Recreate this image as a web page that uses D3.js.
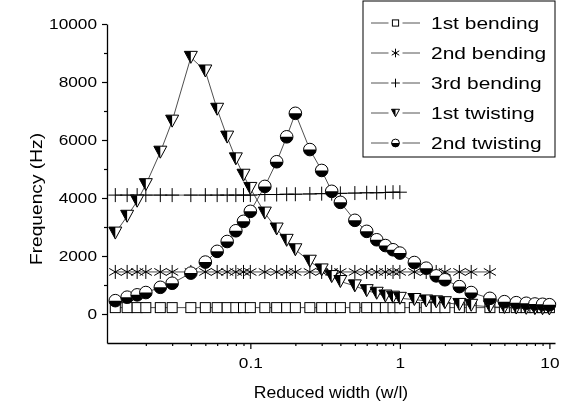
<!DOCTYPE html>
<html>
<head>
<meta charset="utf-8">
<script src="https://cdn.jsdelivr.net/npm/d3@7"></script>
<style>
    body { margin: 0; background: #fff; }
    svg { will-change: transform; }
    text { font-family: "Liberation Sans", Arial, sans-serif; fill: #000; }
</style>
</head>
<body>
<div id="chart"></div>
<script>
// reduced width (w/l), shared by all series
const widths = [0.0125, 0.015, 0.0175, 0.02, 0.025, 0.03, 0.04, 0.05, 0.06, 0.07, 0.08, 0.09, 0.1,
    0.125, 0.15, 0.175, 0.2, 0.25, 0.3, 0.35, 0.4, 0.5, 0.6, 0.7, 0.8, 0.9, 1,
    1.25, 1.5, 1.75, 2, 2.5, 3, 4, 5, 6, 7, 8, 9, 10];

// frequencies in Hz (null = no point)
const bending1 = [220, 220, 220, 220, 220, 220, 220, 220, 220, 220, 220, 220, 220,
    220, 220, 220, 220, 220, 220, 220, 220, 220, 220, 220, 220, 220, 220,
    220, 220, 220, 220, 220, 220, 220, 220, 220, 220, 220, 220, 220];
const bending2 = [1450, 1450, 1450, 1450, 1450, 1450, 1450, 1450, 1450, 1450, 1450, 1450, 1450,
    1450, 1450, 1450, 1450, 1450, 1450, 1450, 1450, 1450, 1450, 1450, 1450, 1450, 1450,
    1450, 1450, 1450, 1450, 1450, 1450, 1450, null, null, null, null, null, null];
const bending3 = [4100, 4100, 4100, 4100, 4100, 4100, 4100, 4100, 4100, 4100, 4100, 4100, 4100,
    4120, 4120, 4130, 4130, 4140, 4150, 4150, 4160, 4170, 4180, 4180, 4190, 4200, 4200,
    null, null, null, null, null, null, null, null, null, null, null, null, null];
const twisting1 = [2790, 3370, 3890, 4460, 5580, 6650, 8850, 8380, 7060, 6100, 5350, 4785, 4330,
    3480, 2930, 2540, 2215, 1820, 1520, 1290, 1120, 970, 805, 715, 620, 580, 540,
    500, 450, 420, 390, 330, 300, 250, 225, 205, 195, 185, 180, 175];
const twisting2 = [460, 580, 660, 740, 920, 1060, 1410, 1790, 2160, 2500, 2870, 3195, 3540,
    4400, 5250, 6110, 6920, 5670, 4950, 4230, 3850, 3230, 2850, 2560, 2360, 2215, 2100,
    1775, 1580, 1315, 1180, 945, 740, 540, 425, 390, 370, 345, 335, 320];

const seriesNames = ["1st bending", "2nd bending", "3rd bending", "1st twisting", "2nd twisting"];
const seriesValues = [bending1, bending2, bending3, twisting1, twisting2];
const seriesMarkers = ["square", "asterisk", "plus", "triangle", "circle"];

const yTicks = [0, 2000, 4000, 6000, 8000, 10000];
const yMinorTicks = [1000, 3000, 5000, 7000, 9000];
const xTicks = [0.1, 1, 10];
const xMinorTicks = [0.02, 0.03, 0.04, 0.05, 0.06, 0.07, 0.08, 0.09,
    0.2, 0.3, 0.4, 0.5, 0.6, 0.7, 0.8, 0.9,
    2, 3, 4, 5, 6, 7, 8, 9];

const width = 562, height = 405;

const svg = d3.select("#chart").append("svg")
    .attr("width", width)
    .attr("height", height);

const x = d3.scaleLog()
    .domain([0.011, 10.9])
    .range([107, 555]);

const y = d3.scaleLinear()
    .domain([-1000, 10000])
    .range([343, 24]);

// glyphs in the original look horizontally stretched
function stretch(sel, sx) {
    sel.each(function () {
        let t = d3.select(this);
        let tx = +t.attr("x") || 0;
        t.attr("x", tx / sx).attr("transform", "scale(" + sx + ",1)");
    });
}

// ---- axes ----
const xAxis = d3.axisBottom(x)
    .tickValues(xTicks)
    .tickFormat(d3.format(""))
    .tickSize(6)
    .tickSizeOuter(0)
    .tickPadding(8);

const gx = svg.append("g")
    .attr("transform", "translate(0," + y(-1000) + ")")
    .call(xAxis);

svg.append("g")
    .attr("transform", "translate(0," + y(-1000) + ")")
    .call(d3.axisBottom(x).tickValues(xMinorTicks).tickFormat("").tickSize(3).tickSizeOuter(0))
    .select(".domain").remove();

const yAxis = d3.axisLeft(y)
    .tickValues(yTicks)
    .tickFormat(d3.format("d"))
    .tickSize(5)
    .tickSizeOuter(0)
    .tickPadding(5);

const gy = svg.append("g")
    .attr("transform", "translate(" + x(0.011) + ",0)")
    .call(yAxis);

svg.append("g")
    .attr("transform", "translate(" + x(0.011) + ",0)")
    .call(d3.axisLeft(y).tickValues(yMinorTicks).tickFormat("").tickSize(3).tickSizeOuter(0))
    .select(".domain").remove();

svg.selectAll(".domain").attr("stroke", "#000").attr("stroke-width", 1.3);
svg.selectAll(".tick line").attr("stroke", "#000").attr("stroke-width", 1.2);

svg.selectAll(".tick text")
    .style("font-size", "15px")
    .style("font-family", "Liberation Sans, Arial, sans-serif")
    .style("fill", "#000");
stretch(gx.selectAll(".tick text"), 1.15);
stretch(gy.selectAll(".tick text"), 1.15);

svg.append("text")
    .attr("transform", "translate(331,398) scale(1.1,1)")
    .attr("text-anchor", "middle")
    .style("font-size", "16px")
    .style("fill", "#000")
    .text("Reduced width (w/l)");

svg.append("text")
    .attr("transform", "translate(42,199) rotate(-90) scale(1.2,1)")
    .attr("text-anchor", "middle")
    .style("font-size", "16px")
    .style("fill", "#000")
    .text("Frequency (Hz)");

// ---- markers ----
function drawMarker(g, type, k) {
    if (type === "square") {
        g.append("rect")
            .attr("x", -5 * k).attr("y", -5 * k)
            .attr("width", 10 * k).attr("height", 10 * k)
            .attr("fill", "#fff").attr("stroke", "#000").attr("stroke-width", 1);
    } else if (type === "asterisk") {
        let a = 7 * k, c = a * Math.cos(Math.PI / 6), s = a * Math.sin(Math.PI / 6);
        g.append("path")
            .attr("d", "M0," + (-a) + "V" + a +
                "M" + (-c) + "," + (-s) + "L" + c + "," + s +
                "M" + (-c) + "," + s + "L" + c + "," + (-s))
            .attr("stroke", "#000").attr("stroke-width", 1).attr("fill", "none");
    } else if (type === "plus") {
        let a = 7 * k;
        g.append("path")
            .attr("d", "M0," + (-a) + "V" + a + "M" + (-a) + ",0H" + a)
            .attr("stroke", "#000").attr("stroke-width", 1).attr("fill", "none");
    } else if (type === "triangle") {
        let w = 6.5 * k, h = 6 * k;
        g.append("path")
            .attr("d", "M" + (-w) + "," + (-h) + "H" + w + "L0," + h + "Z")
            .attr("fill", "#fff").attr("stroke", "#000").attr("stroke-width", 1);
        g.append("path")
            .attr("d", "M" + (-w) + "," + (-h) + "H0V" + h + "Z")
            .attr("fill", "#000");
    } else if (type === "circle") {
        let r = 6.3 * k;
        g.append("circle")
            .attr("r", r)
            .attr("fill", "#fff").attr("stroke", "#000").attr("stroke-width", 1);
        g.append("path")
            .attr("d", "M" + (-r) + ",0A" + r + "," + r + " 0 0,0 " + r + ",0Z")
            .attr("fill", "#000");
    }
}

const line = d3.line()
    .defined(d => d[1] != null)
    .x(d => x(d[0]))
    .y(d => y(d[1]));

seriesValues.forEach(function (vals, i) {
    let pts = widths.map((w, j) => [w, vals[j]]);

    svg.append("path")
        .datum(pts)
        .attr("d", line)
        .attr("fill", "none")
        .attr("stroke", "#222")
        .attr("stroke-width", 0.8);

    svg.selectAll(".pt" + i)
        .data(pts.filter(d => d[1] != null))
        .enter().append("g")
        .attr("class", "pt" + i)
        .attr("transform", d => "translate(" + x(d[0]) + "," + y(d[1]) + ")")
        .each(function () { drawMarker(d3.select(this), seriesMarkers[i], 1); });
});

// ---- legend ----
const legend = svg.append("g");

legend.append("rect")
    .attr("x", 363).attr("y", 1)
    .attr("width", 192).attr("height", 156)
    .attr("fill", "#fff")
    .attr("stroke", "#000")
    .attr("stroke-width", 1);

seriesNames.forEach(function (name, i) {
    let ly = 23 + i * 30;
    legend.append("line")
        .attr("x1", 371).attr("x2", 420)
        .attr("y1", ly).attr("y2", ly)
        .attr("stroke", "#555").attr("stroke-width", 1);
    let m = legend.append("g").attr("transform", "translate(395.5," + ly + ")");
    m.append("rect").attr("x", -7).attr("y", -1).attr("width", 14).attr("height", 2).attr("fill", "#fff");
    drawMarker(m, seriesMarkers[i], 0.62);
    legend.append("text")
        .attr("transform", "translate(431," + (ly + 6) + ") scale(1.27,1)")
        .style("font-size", "16.5px")
        .style("fill", "#000")
        .text(name);
});
</script>
</body>
</html>
